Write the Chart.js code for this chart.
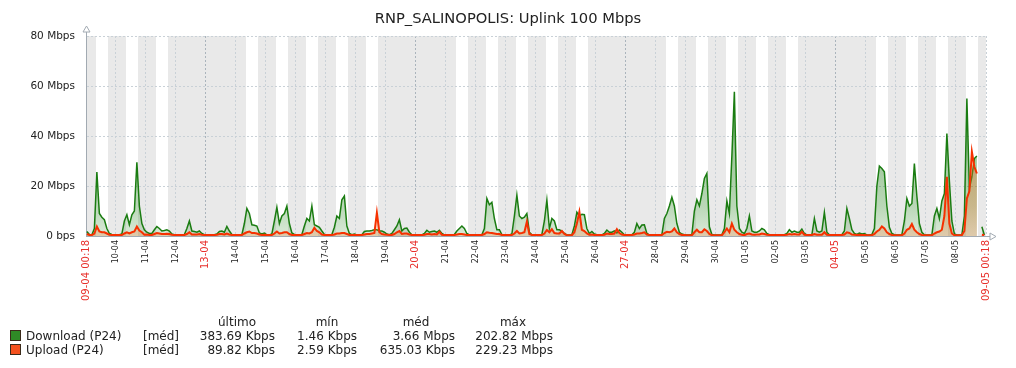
<!DOCTYPE html>
<html>
<head>
<meta charset="utf-8">
<script src="https://cdn.jsdelivr.net/npm/chart.js@4.4.1/dist/chart.umd.min.js"></script>
<style>
  html, body { margin: 0; padding: 0; background: #fff; }
  body { width: 1016px; height: 368px; position: relative; overflow: hidden;
    font-family: 'DejaVu Sans', sans-serif; color: #222; }
  #graph { position: absolute; left: 0; top: 0; }
  .title { position: absolute; left: 0; top: 9px; width: 1016px; text-align: center;
    font-size: 14.7px; line-height: 18px; color: #222; }
  .lg { position: absolute; font-size: 12px; line-height: 14px; white-space: nowrap; }
  .swatch { position: absolute; width: 11px; height: 11px; box-sizing: border-box;
    border: 1px solid #3a2a1a; }
</style>
</head>
<body>
<canvas id="graph" width="1016" height="368"></canvas>
<div class="title" id="title"></div>
<div id="legend"></div>
<script>
const TITLE = 'RNP_SALINOPOLIS: Uplink 100 Mbps';

// One entry per day, 09-04 .. 08-05. 1 = working day (08:00-18:00 white band).
const DAYS = ['09-04', '10-04', '11-04', '12-04', '13-04', '14-04', '15-04', '16-04',
  '17-04', '18-04', '19-04', '20-04', '21-04', '22-04', '23-04', '24-04', '25-04',
  '26-04', '27-04', '28-04', '29-04', '30-04', '01-05', '02-05', '03-05', '04-05',
  '05-05', '06-05', '07-05', '08-05'];
const WORK_DAYS = [1, 1, 1, 0, 0, 1, 1, 1, 1, 1, 0, 0, 1, 1, 1, 1, 1, 0, 0, 1,
  1, 1, 1, 1, 0, 0, 1, 1, 1, 1];
const SUNDAYS = ['13-04', '20-04', '27-04', '04-05'];
const START_LABEL = '09-04 00:18';
const END_LABEL = '09-05 00:18';

// Mbps, one value every 2 hours (01h, 03h, ... 23h), 12 per day.
const downloadMbps = [
  1.8, 0.6, 0.5, 3, 25.6, 9, 7.5, 6.5, 3, 1, 0.6, 0.4,
  0.5, 0.5, 0.8, 6, 8.5, 4.5, 8.5, 10, 29.5, 12, 5, 2.5,
  1.5, 1, 1, 2.5, 3.8, 3, 2, 2.2, 2.5, 2, 0.8, 0.5,
  0.5, 0.4, 0.4, 0.6, 3, 6, 2, 1.8, 1.5, 2, 1, 0.5,
  0.4, 0.4, 0.4, 0.5, 0.8, 1.8, 2, 1.5, 3.8, 2, 0.6, 0.4,
  0.4, 0.4, 0.5, 5, 11, 9, 4.5, 4.3, 4, 1.2, 0.8, 1.2,
  0.5, 0.4, 0.8, 6, 11.5, 5, 8, 9, 12, 5, 1.2, 0.6,
  0.5, 0.4, 0.6, 4, 7, 6, 12, 4.5, 4, 3.5, 2, 0.6,
  0.5, 0.4, 0.6, 3.5, 8, 7, 14.5, 16, 4, 1, 0.5, 0.8,
  0.4, 0.4, 0.5, 1.8, 2, 2, 2.2, 2.5, 2.5, 2, 2, 1.5,
  0.8, 0.5, 1, 2.5, 4, 6.5, 2, 3, 3.2, 1.5, 0.5, 0.4,
  0.4, 0.4, 0.4, 1, 2.3, 1.5, 1.8, 2, 1.5, 2.3, 1, 0.4,
  0.4, 0.4, 0.4, 0.6, 2, 3, 4, 3, 1, 0.4, 0.4, 0.4,
  0.4, 0.4, 0.5, 3, 15, 12.5, 13.5, 7, 2.5, 2.5, 0.6, 0.5,
  0.4, 0.4, 0.8, 8, 16.4, 8, 7, 7.5, 9, 1.5, 0.5, 0.4,
  0.4, 0.4, 0.6, 6, 14.4, 3, 7, 6, 2.5, 2.5, 2, 1,
  0.4, 0.4, 0.5, 4, 9.5, 8, 8.7, 8.5, 3, 1, 1.8, 0.8,
  0.5, 0.4, 0.4, 1, 2.4, 1.5, 1.5, 2, 1.2, 2.4, 1.5, 0.5,
  0.4, 0.4, 0.5, 1.5, 5, 3, 4.4, 4.5, 1, 0.4, 0.4, 0.4,
  0.4, 0.4, 0.6, 7, 9, 12, 15.5, 12, 5, 1.5, 0.8, 0.5,
  0.4, 0.4, 0.6, 10, 14.5, 12, 17, 23, 25, 3.7, 0.6, 0.4,
  0.4, 0.4, 0.5, 3, 14, 9, 32, 57.7, 12, 3, 1.5, 1,
  3, 8, 2, 1.5, 1.5, 2, 3, 2.5, 1, 0.5, 0.4, 0.4,
  0.4, 0.4, 0.4, 0.5, 1, 2.5, 1.5, 2, 1.5, 1.5, 2.8, 1,
  0.4, 0.4, 0.5, 7, 2, 1.5, 2, 9.5, 1.5, 0.5, 0.4, 0.4,
  0.4, 0.4, 0.5, 2, 11, 7, 2.5, 1, 0.6, 1.2, 0.8, 1,
  0.4, 0.4, 0.6, 3, 20, 28, 27, 25.7, 12, 3.5, 1, 0.5,
  0.4, 0.4, 0.5, 6, 15, 12, 13, 29, 16, 5, 1.5, 0.5,
  0.4, 0.4, 0.5, 8, 11, 7, 14, 17, 41, 22, 6, 0.8,
  0.4, 0.4, 0.5, 8, 55, 19, 23.7, 31, 32, null, 3.7, 0.4,
];
const uploadMbps = [
  0.8, 0.4, 0.4, 1, 3.8, 1.8, 1.5, 1.5, 1, 0.5, 0.4, 0.4,
  0.4, 0.4, 0.4, 1, 1.5, 1, 1.5, 1.8, 3.8, 2.2, 1.5, 0.5,
  0.6, 0.4, 0.4, 0.8, 1.2, 1, 0.8, 0.8, 0.9, 0.8, 0.5, 0.4,
  0.4, 0.4, 0.4, 0.4, 0.8, 1.5, 0.6, 0.6, 0.6, 0.8, 0.5, 0.4,
  0.4, 0.4, 0.4, 0.4, 0.5, 0.8, 0.8, 0.6, 1, 0.6, 0.4, 0.4,
  0.4, 0.4, 0.4, 1, 1.5, 1.8, 1.2, 1.2, 1, 0.6, 0.4, 0.5,
  0.4, 0.4, 0.4, 1, 1.8, 1, 1.2, 1.5, 1.5, 0.8, 0.4, 0.4,
  0.4, 0.4, 0.4, 0.8, 1.2, 1, 1.5, 3.3, 2, 1.5, 0.6, 0.4,
  0.4, 0.4, 0.4, 0.6, 1, 1, 1.2, 1.2, 0.8, 0.4, 0.4, 0.4,
  0.4, 0.4, 0.4, 0.6, 0.8, 0.8, 1, 1.2, 9.3, 1.5, 0.8, 0.6,
  0.5, 0.4, 0.4, 0.8, 1.5, 2, 0.8, 1, 1, 0.6, 0.4, 0.4,
  0.4, 0.4, 0.4, 0.5, 0.8, 0.8, 0.6, 0.8, 0.6, 1.7, 0.5, 0.4,
  0.4, 0.4, 0.4, 0.4, 0.6, 0.8, 0.8, 0.6, 0.4, 0.4, 0.4, 0.4,
  0.4, 0.4, 0.4, 0.8, 1.5, 1.3, 1.2, 1, 0.8, 0.8, 0.4, 0.4,
  0.4, 0.4, 0.4, 1, 2, 1, 1.2, 1.5, 5.7, 0.8, 0.4, 0.4,
  0.4, 0.4, 0.4, 1, 2.4, 1.5, 2.7, 1.2, 1, 1, 2, 0.8,
  0.3, 0.3, 0.3, 1.5, 5, 9.7, 2.5, 2, 1, 0.5, 0.6, 0.4,
  0.4, 0.4, 0.4, 0.5, 1, 0.8, 0.8, 1, 2.7, 1.2, 0.6, 0.4,
  0.4, 0.4, 0.4, 0.6, 1, 1, 1.2, 1.5, 0.6, 0.4, 0.4, 0.4,
  0.4, 0.4, 0.4, 1.2, 1.7, 1.5, 1.8, 3, 1.5, 0.8, 0.4, 0.4,
  0.3, 0.3, 0.3, 1.5, 2.5, 1.5, 1.5, 2.7, 2, 0.8, 0.3, 0.3,
  0.3, 0.3, 0.3, 1.5, 3, 1.5, 5, 2.5, 1.5, 0.8, 0.5, 0.3,
  0.8, 1, 0.6, 0.5, 0.6, 0.6, 1, 0.8, 0.5, 0.4, 0.4, 0.4,
  0.4, 0.4, 0.4, 0.4, 0.5, 0.8, 0.6, 0.8, 0.6, 0.6, 1.7, 0.5,
  0.4, 0.4, 0.4, 0.8, 0.5, 0.5, 0.5, 1.5, 0.5, 0.4, 0.4, 0.4,
  0.4, 0.4, 0.4, 0.6, 1.5, 1.2, 0.6, 0.5, 0.4, 0.5, 0.4, 0.4,
  0.3, 0.3, 0.3, 0.8, 1.8, 2.5, 3.8, 3, 1.5, 0.8, 0.4, 0.3,
  0.3, 0.3, 0.3, 1, 2.5, 3, 4.8, 2.5, 1.5, 0.8, 0.4, 0.3,
  0.3, 0.3, 0.3, 1, 1.5, 1.8, 2.5, 8, 23.7, 5, 1, 0.3,
  0.3, 0.3, 0.4, 2, 15, 18, 33.7, 27.7, 25, null, 0.5, 0.3,
];

const LEGEND_HEADERS = ['último', 'mín', 'méd', 'máx'];
const SERIES_NAMES = ['Download (P24)', 'Upload (P24)'];
const SERIES_FUNCTION = '[méd]';
const DOWNLOAD_STATS = ['383.69 Kbps', '1.46 Kbps', '3.66 Mbps', '202.82 Mbps'];
const UPLOAD_STATS = ['89.82 Kbps', '2.59 Kbps', '635.03 Kbps', '229.23 Mbps'];

const FONT = 'DejaVu Sans';
const COLOR_DOWNLOAD = '#1a7c11';
const COLOR_UPLOAD = '#f63100';
const COLOR_SWATCH = ['#2f8a26', '#f4511e'];
const COLOR_NON_WORK = '#e9e9e9';
const COLOR_GRID = '#c9d1d7';
const COLOR_GRID_WEEK = '#aab4bc';
const COLOR_AXIS = '#a2aab2';
const COLOR_TEXT = '#222222';
const COLOR_RED_LABEL = '#e8302c';

const HOURS_PER_DAY = 24;
const SAMPLE_STEP = 2;
const SAMPLE_OFFSET = 1;
const TIME_START = 0.3;   // 09-04 00:18
const TIME_END = 720.3;   // 09-05 00:18
const WORK_START = 8;
const WORK_END = 18;

const TICK_VALUES = [TIME_START]
  .concat(DAYS.slice(1).map((d, i) => (i + 1) * HOURS_PER_DAY), [TIME_END]);
const TICK_LABELS = [START_LABEL].concat(DAYS.slice(1), [END_LABEL]);

/**
 * Turns a list of 2-hourly values into {x, y} points (x in hours).
 * @param {Array} values The series values.
 * @return {Array} The points.
 */
function toPoints(values) {
  return values.map((v, i) => ({x: i * SAMPLE_STEP + SAMPLE_OFFSET, y: v}));
}

/**
 * Tells if a tick label is drawn in red (edges and sundays).
 * @param {number} index Tick index.
 * @return {boolean}
 */
function isRedTick(index) {
  if (index === 0 || index === TICK_LABELS.length - 1) return true;
  return SUNDAYS.includes(TICK_LABELS[index]);
}

/**
 * Vertical gradient for a filled area: stops are [position, alpha].
 */
function areaGradient(chart, rgb, stops) {
  const area = chart.chartArea;
  if (!area) return 'rgba(' + rgb + ',' + stops[stops.length - 1][1] + ')';
  const g = chart.ctx.createLinearGradient(0, area.top, 0, area.bottom);
  stops.forEach(([pos, alpha]) => g.addColorStop(pos, 'rgba(' + rgb + ',' + alpha + ')'));
  return g;
}

// Gray background with white working hours, plus the axis arrows.
const workTimePlugin = {
  id: 'workTime',
  beforeDraw(chart) {
    const {ctx, chartArea: a, scales: {x}} = chart;
    ctx.save();
    ctx.fillStyle = COLOR_NON_WORK;
    ctx.fillRect(a.left, a.top, a.right - a.left, a.bottom - a.top);
    ctx.fillStyle = '#ffffff';
    WORK_DAYS.forEach((isWork, d) => {
      if (!isWork) return;
      const x0 = Math.round(x.getPixelForValue(d * HOURS_PER_DAY + WORK_START));
      const x1 = Math.round(x.getPixelForValue(d * HOURS_PER_DAY + WORK_END));
      ctx.fillRect(x0, a.top, x1 - x0, a.bottom - a.top);
    });
    ctx.restore();
  },
  afterDraw(chart) {
    const {ctx, chartArea: a} = chart;
    const left = a.left + 0.5;
    const bottom = a.bottom + 0.5;
    ctx.save();
    ctx.strokeStyle = COLOR_AXIS;
    ctx.lineWidth = 1;
    ctx.beginPath();
    ctx.moveTo(left, a.top);
    ctx.lineTo(left, a.top - 4);
    ctx.moveTo(a.right, bottom);
    ctx.lineTo(a.right + 4, bottom);
    ctx.stroke();
    ctx.beginPath();
    ctx.moveTo(left, a.top - 10);
    ctx.lineTo(left - 3.5, a.top - 4);
    ctx.lineTo(left + 3.5, a.top - 4);
    ctx.closePath();
    ctx.moveTo(a.right + 10, bottom);
    ctx.lineTo(a.right + 4, bottom - 3.5);
    ctx.lineTo(a.right + 4, bottom + 3.5);
    ctx.closePath();
    ctx.stroke();
    ctx.restore();
  },
};

/**
 * Builds the chart configuration.
 */
function getChartConfiguration() {
  return {
    type: 'line',
    data: {
      datasets: [
        {
          label: SERIES_NAMES[0],
          data: toPoints(downloadMbps),
          order: 2,
          borderColor: COLOR_DOWNLOAD,
          borderWidth: 1.5,
          pointRadius: 0,
          fill: 'origin',
          backgroundColor: (c) => areaGradient(c.chart, '26,124,17',
            [[0, 0.7], [0.6, 0.42], [0.85, 0.3], [1, 0.16]]),
          spanGaps: false,
        },
        {
          label: SERIES_NAMES[1],
          data: toPoints(uploadMbps),
          order: 1,
          borderColor: COLOR_UPLOAD,
          borderWidth: 2,
          pointRadius: 0,
          fill: 'origin',
          backgroundColor: (c) => areaGradient(c.chart, '236,110,40',
            [[0, 0.5], [0.6, 0.38], [1, 0.26]]),
          spanGaps: false,
        },
      ],
    },
    options: {
      responsive: false,
      animation: false,
      devicePixelRatio: 1,
      layout: {padding: {left: 0, top: 36, right: 30, bottom: 0}},
      plugins: {
        legend: {display: false},
        title: {display: false},
        tooltip: {enabled: false},
      },
      scales: {
        x: {
          type: 'linear',
          min: TIME_START,
          max: TIME_END,
          afterBuildTicks: (scale) => {
            scale.ticks = TICK_VALUES.map((value) => ({value}));
          },
          afterFit: (scale) => {
            scale.height = 132;
          },
          ticks: {
            autoSkip: false,
            minRotation: 90,
            maxRotation: 90,
            padding: 4,
            callback: (value, index) => TICK_LABELS[index],
            color: (c) => isRedTick(c.index) ? COLOR_RED_LABEL : COLOR_TEXT,
            font: (c) => ({family: FONT, size: isRedTick(c.index) ? 10 : 8}),
          },
          grid: {
            drawTicks: false,
            color: (c) => SUNDAYS.includes(TICK_LABELS[c.index]) ?
              COLOR_GRID_WEEK : COLOR_GRID,
          },
          border: {color: COLOR_AXIS, dash: [2, 2]},
        },
        y: {
          min: 0,
          max: 80,
          afterFit: (scale) => {
            scale.width = 86;
          },
          ticks: {
            stepSize: 20,
            padding: 11,
            color: COLOR_TEXT,
            font: {family: FONT, size: 10.5},
            callback: (v) => v === 0 ? '0 bps' : v + ' Mbps',
          },
          grid: {drawTicks: false, color: COLOR_GRID},
          border: {color: COLOR_AXIS, dash: [2, 2]},
        },
      },
    },
    plugins: [workTimePlugin],
  };
}

/**
 * Writes the legend table under the graph.
 */
function buildLegend() {
  const legend = document.getElementById('legend');
  const colRights = [275, 357, 455, 553];
  const colWidths = [76, 60, 78, 80];
  const rows = [DOWNLOAD_STATS, UPLOAD_STATS];
  const add = (text, style) => {
    const el = document.createElement('div');
    el.className = 'lg';
    el.textContent = text;
    Object.assign(el.style, style);
    legend.appendChild(el);
  };
  LEGEND_HEADERS.forEach((h, i) => {
    add(h, {left: (colRights[i] - colWidths[i]) + 'px', width: colWidths[i] + 'px',
      top: '315px', textAlign: 'center'});
  });
  rows.forEach((stats, r) => {
    const top = 329 + r * 14;
    const sw = document.createElement('div');
    sw.className = 'swatch';
    sw.style.left = '10px';
    sw.style.top = (top + 1) + 'px';
    sw.style.background = COLOR_SWATCH[r];
    legend.appendChild(sw);
    add(SERIES_NAMES[r], {left: '26px', top: top + 'px'});
    add(SERIES_FUNCTION, {left: '143px', top: top + 'px'});
    stats.forEach((s, i) => {
      add(s, {left: (colRights[i] - 120) + 'px', width: '120px',
        top: top + 'px', textAlign: 'right'});
    });
  });
}

document.getElementById('title').textContent = TITLE;
buildLegend();
new Chart(document.getElementById('graph'), getChartConfiguration());
</script>
</body>
</html>
